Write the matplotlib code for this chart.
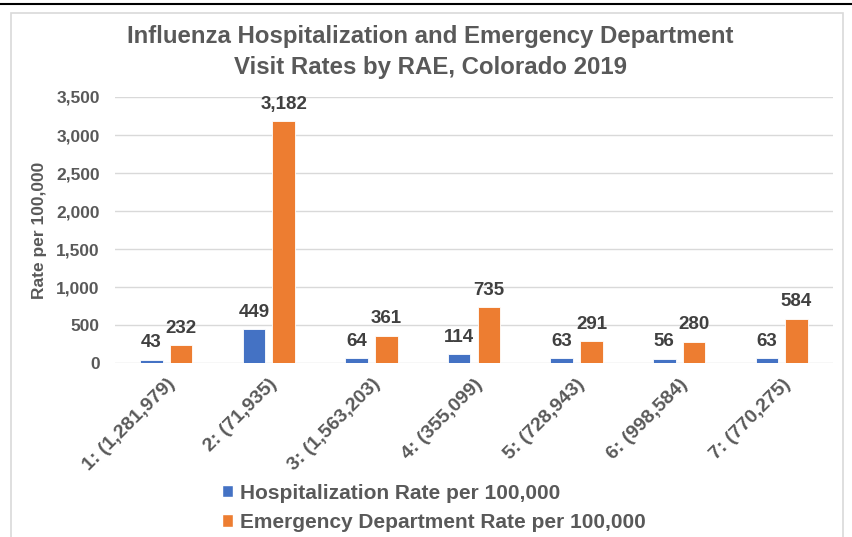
#!/usr/bin/env python3
"""Influenza hospitalization and ED visit rates by RAE, Colorado 2019."""

import matplotlib.pyplot as plt
from matplotlib.lines import Line2D
from matplotlib.patches import Patch, Rectangle
import numpy as np

plt.rcParams["font.family"] = ["Liberation Sans", "DejaVu Sans"]

CATEGORIES = ["1: (1,281,979)", "2: (71,935)", "3: (1,563,203)", "4: (355,099)",
              "5: (728,943)", "6: (998,584)", "7: (770,275)"]
HOSP_RATE = [43, 449, 64, 114, 63, 56, 63]
ED_RATE = [232, 3182, 361, 735, 291, 280, 584]
SERIES_NAMES = ["Hospitalization Rate per 100,000", "Emergency Department Rate per 100,000"]

BLUE = "#4472C4"
ORANGE = "#ED7D31"
TEXT = "#595959"
LABEL = "#404040"
GRID = "#D9D9D9"

fig = plt.figure(figsize=(8.53, 5.37), dpi=100, facecolor="white")
ax = fig.add_axes([115 / 853, 1 - 363 / 537, 718 / 853, 266 / 537])

x = np.arange(len(CATEGORIES))
w = 0.22
off = 0.145
b1 = ax.bar(x - off, HOSP_RATE, w, color=BLUE, edgecolor="white", linewidth=0.6, zorder=3)
b2 = ax.bar(x + off, ED_RATE, w, color=ORANGE, edgecolor="white", linewidth=0.6, zorder=3)

for bars, vals in ((b1, HOSP_RATE), (b2, ED_RATE)):
    for rect, v in zip(bars, vals):
        ax.annotate(f"{v:,}", (rect.get_x() + rect.get_width() / 2, v), xytext=(0, 6),
                    textcoords="offset points", ha="center", va="bottom",
                    fontsize=13.5, fontweight="bold", color=LABEL)

ax.set_xlim(-0.5, len(CATEGORIES) - 0.5)
ax.set_ylim(0, 3500)
ax.set_yticks(np.arange(0, 3501, 500))
ax.set_yticklabels([f"{v:,}" for v in range(0, 3501, 500)])
ax.yaxis.grid(True, color=GRID, linewidth=1.0, zorder=0)
ax.set_axisbelow(True)
for s in ax.spines.values():
    s.set_visible(False)
ax.tick_params(axis="both", length=0, labelsize=12.5, labelcolor=TEXT)
ax.tick_params(axis="y", pad=11)
for lbl in ax.get_yticklabels():
    lbl.set_fontweight("bold")

ax.set_xticks(x)
ax.set_xticklabels(CATEGORIES, rotation=45, ha="right", va="top",
                   rotation_mode="anchor", fontsize=14, fontweight="bold", color=TEXT)
ax.tick_params(axis="x", pad=9)
ax.set_ylabel("Rate per 100,000", fontsize=12.5, fontweight="bold", color=TEXT,
              va="center")
ax.yaxis.set_label_coords((40 - 115) / 718, 0.5)

fig.text(430 / 853, 1 - 52 / 537,
         "Influenza Hospitalization and Emergency Department\nVisit Rates by RAE, Colorado 2019",
         ha="center", va="center", fontsize=17.3, fontweight="bold", color=TEXT, linespacing=1.4)

handles = [Patch(facecolor=BLUE, edgecolor="white"), Patch(facecolor=ORANGE, edgecolor="white")]
fig.legend(handles, SERIES_NAMES, loc="upper left", bbox_to_anchor=(207 / 853, 1 - 469 / 537),
           frameon=False, prop={"size": 15, "weight": "bold"}, labelcolor=TEXT,
           handlelength=0.55, handleheight=0.55, handletextpad=0.35, labelspacing=0.5,
           borderpad=0.2)

fig.patches.append(Rectangle((11 / 853, -0.05), 832 / 853, 1.05 - 13 / 537,
                             transform=fig.transFigure, fill=False, edgecolor="#D9D9D9",
                             linewidth=1.2))
fig.lines.append(Line2D([0, 1], [1 - 4 / 537, 1 - 4 / 537], transform=fig.transFigure,
                        color="black", linewidth=1.5))

fig.savefig("out.png", dpi=100, facecolor="white")
